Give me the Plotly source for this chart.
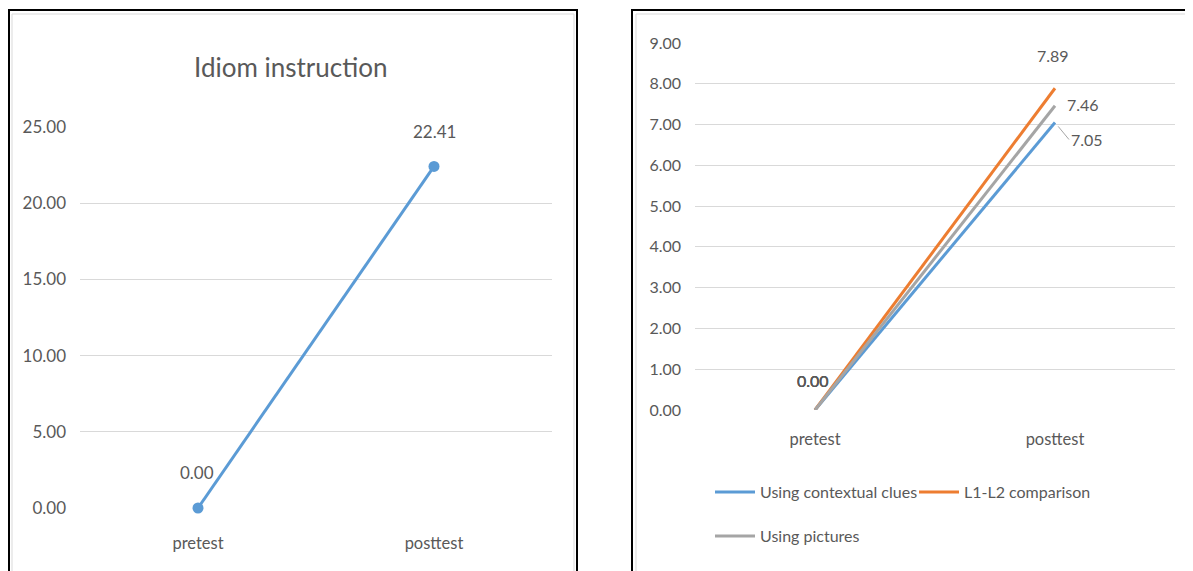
import plotly.graph_objects as go

categories = ["pretest", "posttest"]
idiom_values = [0.00, 22.41]
contextual_values = [0.00, 7.05]
l1l2_values = [0.00, 7.89]
pictures_values = [0.00, 7.46]
left_ticks = [0, 5, 10, 15, 20, 25]
right_ticks = [0, 1, 2, 3, 4, 5, 6, 7, 8, 9]

OFF = 8  # page body margin
W, H = 1193 - OFF, 571 - OFF
FONT = "Lato, Carlito, Open Sans, sans-serif"
TXT = "#595959"
BLUE, ORANGE, GRAY = "#5b9bd5", "#ed7d31", "#a5a5a5"


def px(x):
    return (x - OFF) / W


def py(y):
    return 1 - (y - OFF) / H


fig = go.Figure()

fig.add_trace(go.Scatter(
    x=categories, y=idiom_values, mode="lines+markers",
    line=dict(color=BLUE, width=3), marker=dict(size=11, color=BLUE),
    cliponaxis=False, showlegend=False, xaxis="x", yaxis="y"))

fig.add_trace(go.Scatter(
    x=categories, y=contextual_values, mode="lines", name="Using contextual clues",
    line=dict(color=BLUE, width=3), cliponaxis=False, xaxis="x2", yaxis="y2",
    legend="legend"))
fig.add_trace(go.Scatter(
    x=categories, y=l1l2_values, mode="lines", name="L1-L2 comparison",
    line=dict(color=ORANGE, width=3), cliponaxis=False, xaxis="x2", yaxis="y2",
    legend="legend"))
fig.add_trace(go.Scatter(
    x=categories, y=pictures_values, mode="lines", name="Using pictures",
    line=dict(color=GRAY, width=3), cliponaxis=False, xaxis="x2", yaxis="y2",
    legend="legend2"))

axis_common = dict(showline=False, zeroline=False, ticks="", fixedrange=True)

fig.update_layout(
    width=W, height=H, margin=dict(l=0, r=0, t=0, b=0, autoexpand=False),
    paper_bgcolor="white", plot_bgcolor="white",
    font=dict(family=FONT, color=TXT),
    xaxis=dict(domain=[px(80), px(552)], range=[-0.5, 1.5], showgrid=False,
               anchor="y", ticklabelstandoff=23,
               tickfont=dict(family=FONT, size=16.5, color=TXT), **axis_common),
    yaxis=dict(domain=[py(508), py(127)], range=[0, 25], tickvals=left_ticks,
               ticktext=[f"{v:.2f}" for v in left_ticks], showgrid=True,
               gridcolor="#d9d9d9", gridwidth=1, anchor="x", ticklabelstandoff=13,
               tickfont=dict(family=FONT, size=17, color=TXT), **axis_common),
    xaxis2=dict(domain=[px(695), px(1175)], range=[-0.5, 1.5], showgrid=False,
                anchor="y2", ticklabelstandoff=17,
                tickfont=dict(family=FONT, size=16.5, color=TXT), **axis_common),
    yaxis2=dict(domain=[py(410), py(43)], range=[0, 9], tickvals=right_ticks,
                ticktext=[f"{v:.2f}" for v in right_ticks], showgrid=True,
                gridcolor="#d9d9d9", gridwidth=1, anchor="x2", ticklabelstandoff=13,
                tickfont=dict(family=FONT, size=16, color=TXT), **axis_common),
    legend=dict(orientation="h", x=px(710), y=py(492), xanchor="left", yanchor="middle",
                font=dict(family=FONT, size=16, color=TXT), entrywidth=149,
                entrywidthmode="pixels", bgcolor="rgba(0,0,0,0)", itemwidth=40),
    legend2=dict(orientation="h", x=px(710), y=py(536), xanchor="left", yanchor="middle",
                 font=dict(family=FONT, size=16, color=TXT),
                 bgcolor="rgba(0,0,0,0)", itemwidth=40),
)

# Title of left chart
fig.add_annotation(text="Idiom instruction", x=px(290), y=py(67), xref="paper", yref="paper",
                   xanchor="center", yanchor="middle", showarrow=False,
                   font=dict(family=FONT, size=26, color=TXT))

lab_font = dict(family=FONT, size=17, color=TXT)
lab_font2 = dict(family=FONT, size=16, color=TXT)
# Left data labels
fig.add_annotation(x=categories[1], y=idiom_values[1], xref="x", yref="y", text=f"{idiom_values[1]:.2f}",
                   showarrow=False, yshift=35, font=lab_font)
fig.add_annotation(x=categories[0], y=idiom_values[0], xref="x", yref="y", text=f"{idiom_values[0]:.2f}",
                   showarrow=False, yshift=36, xshift=-1, font=lab_font)

# Right data labels
for vals in (contextual_values, l1l2_values, pictures_values):
    fig.add_annotation(x=categories[0], y=vals[0], xref="x2", yref="y2", text=f"{vals[0]:.2f}",
                       showarrow=False, yshift=30, xshift=-2, font=lab_font2)
fig.add_annotation(x=categories[1], y=l1l2_values[1], xref="x2", yref="y2", text=f"{l1l2_values[1]:.2f}",
                   showarrow=False, yshift=33, xshift=-2, font=lab_font2)
fig.add_annotation(x=categories[1], y=pictures_values[1], xref="x2", yref="y2",
                   text=f"{pictures_values[1]:.2f}", showarrow=False, xanchor="left",
                   xshift=10, yshift=1, font=lab_font2)
fig.add_annotation(x=categories[1], y=contextual_values[1], xref="x2", yref="y2",
                   text=f"{contextual_values[1]:.2f}", showarrow=True, arrowhead=0,
                   arrowwidth=1, arrowcolor="#a6a6a6", ax=14, ay=17, xanchor="left",
                   standoff=5, font=lab_font2)

# Panel borders
shapes = [
    dict(type="rect", xref="paper", yref="paper", x0=px(12), x1=px(574), y0=-0.05, y1=py(14),
         line=dict(color="#d9d9d9", width=1)),
    dict(type="rect", xref="paper", yref="paper", x0=px(9), x1=px(577), y0=-0.05, y1=py(10),
         line=dict(color="black", width=2)),
    dict(type="rect", xref="paper", yref="paper", x0=px(636), x1=px(1200), y0=-0.05, y1=py(14),
         line=dict(color="#d9d9d9", width=1)),
    dict(type="rect", xref="paper", yref="paper", x0=px(632), x1=1.05, y0=-0.05, y1=py(10),
         line=dict(color="black", width=2)),
]
fig.update_layout(shapes=shapes)

fig.write_html("out.html")
